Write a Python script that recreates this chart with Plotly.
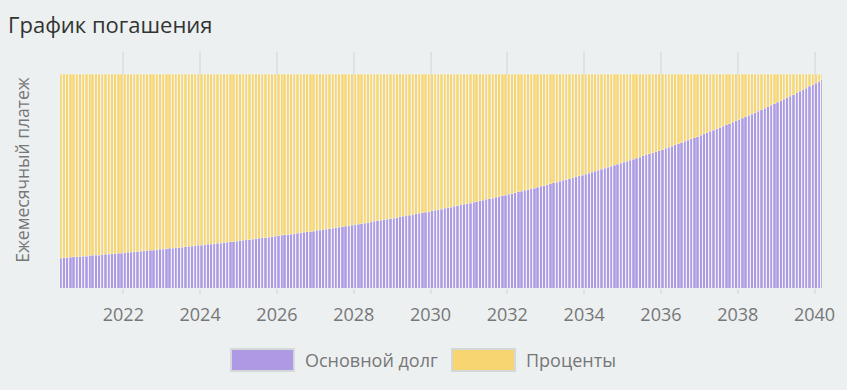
import plotly.graph_objects as go
import pandas as pd

# Monthly payment split (share of a constant monthly payment, %)
principal = [
    14.0, 14.1, 14.2, 14.3, 14.5, 14.6, 14.7, 14.8, 14.9, 15.1, 15.2, 15.3,
    15.4, 15.6, 15.7, 15.8, 16.0, 16.1, 16.2, 16.3, 16.5, 16.6, 16.7, 16.9,
    17.0, 17.2, 17.3, 17.4, 17.6, 17.7, 17.9, 18.0, 18.2, 18.3, 18.5, 18.6,
    18.8, 18.9, 19.1, 19.2, 19.4, 19.5, 19.7, 19.9, 20.0, 20.2, 20.4, 20.5,
    20.7, 20.9, 21.0, 21.2, 21.4, 21.6, 21.7, 21.9, 22.1, 22.3, 22.5, 22.6,
    22.8, 23.0, 23.2, 23.4, 23.6, 23.8, 24.0, 24.2, 24.4, 24.6, 24.8, 25.0,
    25.2, 25.4, 25.6, 25.8, 26.0, 26.2, 26.4, 26.6, 26.9, 27.1, 27.3, 27.5,
    27.8, 28.0, 28.2, 28.4, 28.7, 28.9, 29.1, 29.4, 29.6, 29.9, 30.1, 30.3,
    30.6, 30.9, 31.1, 31.4, 31.6, 31.9, 32.1, 32.4, 32.7, 32.9, 33.2, 33.5,
    33.7, 34.0, 34.3, 34.6, 34.9, 35.1, 35.4, 35.7, 36.0, 36.3, 36.6, 36.9,
    37.2, 37.5, 37.8, 38.1, 38.4, 38.8, 39.1, 39.4, 39.7, 40.0, 40.4, 40.7,
    41.0, 41.4, 41.7, 42.0, 42.4, 42.7, 43.1, 43.4, 43.8, 44.1, 44.5, 44.9,
    45.2, 45.6, 46.0, 46.4, 46.7, 47.1, 47.5, 47.9, 48.3, 48.7, 49.1, 49.5,
    49.9, 50.3, 50.7, 51.1, 51.5, 52.0, 52.4, 52.8, 53.2, 53.7, 54.1, 54.6,
    55.0, 55.5, 55.9, 56.4, 56.8, 57.3, 57.8, 58.2, 58.7, 59.2, 59.7, 60.2,
    60.7, 61.2, 61.7, 62.2, 62.7, 63.2, 63.7, 64.2, 64.7, 65.3, 65.8, 66.3,
    66.9, 67.4, 68.0, 68.5, 69.1, 69.7, 70.2, 70.8, 71.4, 72.0, 72.6, 73.2,
    73.8, 74.4, 75.0, 75.6, 76.2, 76.8, 77.5, 78.1, 78.7, 79.4, 80.0, 80.7,
    81.3, 82.0, 82.7, 83.4, 84.0, 84.7, 85.4, 86.1, 86.8, 87.5, 88.2, 89.0,
    89.7, 90.4, 91.2, 91.9, 92.7, 93.4, 94.2, 95.0, 95.7, 96.5, 97.3, 98.1,
]
interest = [
    86.0, 85.9, 85.8, 85.7, 85.5, 85.4, 85.3, 85.2, 85.1, 84.9, 84.8, 84.7,
    84.6, 84.4, 84.3, 84.2, 84.0, 83.9, 83.8, 83.7, 83.5, 83.4, 83.3, 83.1,
    83.0, 82.8, 82.7, 82.6, 82.4, 82.3, 82.1, 82.0, 81.8, 81.7, 81.5, 81.4,
    81.2, 81.1, 80.9, 80.8, 80.6, 80.5, 80.3, 80.1, 80.0, 79.8, 79.6, 79.5,
    79.3, 79.1, 79.0, 78.8, 78.6, 78.4, 78.3, 78.1, 77.9, 77.7, 77.5, 77.4,
    77.2, 77.0, 76.8, 76.6, 76.4, 76.2, 76.0, 75.8, 75.6, 75.4, 75.2, 75.0,
    74.8, 74.6, 74.4, 74.2, 74.0, 73.8, 73.6, 73.4, 73.1, 72.9, 72.7, 72.5,
    72.2, 72.0, 71.8, 71.6, 71.3, 71.1, 70.9, 70.6, 70.4, 70.1, 69.9, 69.7,
    69.4, 69.1, 68.9, 68.6, 68.4, 68.1, 67.9, 67.6, 67.3, 67.1, 66.8, 66.5,
    66.3, 66.0, 65.7, 65.4, 65.1, 64.9, 64.6, 64.3, 64.0, 63.7, 63.4, 63.1,
    62.8, 62.5, 62.2, 61.9, 61.6, 61.2, 60.9, 60.6, 60.3, 60.0, 59.6, 59.3,
    59.0, 58.6, 58.3, 58.0, 57.6, 57.3, 56.9, 56.6, 56.2, 55.9, 55.5, 55.1,
    54.8, 54.4, 54.0, 53.6, 53.3, 52.9, 52.5, 52.1, 51.7, 51.3, 50.9, 50.5,
    50.1, 49.7, 49.3, 48.9, 48.5, 48.0, 47.6, 47.2, 46.8, 46.3, 45.9, 45.4,
    45.0, 44.5, 44.1, 43.6, 43.2, 42.7, 42.2, 41.8, 41.3, 40.8, 40.3, 39.8,
    39.3, 38.8, 38.3, 37.8, 37.3, 36.8, 36.3, 35.8, 35.3, 34.7, 34.2, 33.7,
    33.1, 32.6, 32.0, 31.5, 30.9, 30.3, 29.8, 29.2, 28.6, 28.0, 27.4, 26.8,
    26.2, 25.6, 25.0, 24.4, 23.8, 23.2, 22.5, 21.9, 21.3, 20.6, 20.0, 19.3,
    18.7, 18.0, 17.3, 16.6, 16.0, 15.3, 14.6, 13.9, 13.2, 12.5, 11.8, 11.0,
    10.3, 9.6, 8.8, 8.1, 7.3, 6.6, 5.8, 5.0, 4.3, 3.5, 2.7, 1.9,
]
months = pd.date_range("2020-04-15", periods=len(principal), freq="MS") + pd.Timedelta(days=14)
tick_years = ["2022", "2024", "2026", "2028", "2030", "2032", "2034", "2036", "2038", "2040"]

names = ["Основной долг", "Проценты"]
colors = ["#ad99e4", "#f7d570"]

BG = "#ecf0f1"
GRID = "#dde2e3"
FONT = "Open Sans, Noto Sans, sans-serif"

fig = go.Figure()
for name, vals, col in zip(names, [principal, interest], colors):
    fig.add_trace(go.Bar(
        x=months, y=vals, name=name,
        marker=dict(color=col, line=dict(color="rgba(255,255,255,0.35)", width=0.6)),
        showlegend=False,
    ))

# Legend drawn as wide swatches with text labels
legend_items = [(231, 294, 303), (452, 515, 524)]
W, H = 847, 390
for (x0, x1, tx), name, col in zip(legend_items, names, colors):
    fig.add_shape(type="rect", xref="paper", yref="paper",
                  x0=(x0 - 57) / (822 - 57), x1=(x1 - 57) / (822 - 57),
                  y0=(288 - 349) / (288 - 52), y1=(288 - 371) / (288 - 52),
                  fillcolor=col, line=dict(color="#d3d8d9", width=2), layer="above")
    fig.add_annotation(xref="paper", yref="paper",
                       x=(tx - 57) / (822 - 57), y=(288 - 360) / (288 - 52),
                       xanchor="left", yanchor="middle", showarrow=False,
                       text=name, font=dict(family=FONT, size=18, color="#777777"))

fig.update_layout(
    width=W, height=H,
    barmode="stack", bargap=0.22,
    paper_bgcolor=BG, plot_bgcolor=BG,
    margin=dict(l=57, r=25, t=52, b=102),
    font=dict(family=FONT, color="#777777"),
    title=dict(text="График погашения", x=8 / W, xanchor="left", xref="container",
               y=1 - 25 / H, yanchor="middle", yref="container",
               font=dict(family=FONT, size=22, color="#333333")),
)
fig.update_xaxes(
    type="date",
    range=["2020-04-10", "2040-03-12"],
    tickvals=[pd.Timestamp(y + "-01-01") for y in tick_years],
    ticktext=tick_years,
    showgrid=True, gridcolor=GRID, gridwidth=2,
    ticks="outside", ticklen=5, tickcolor=GRID, tickwidth=2,
    ticklabelstandoff=5,
    tickfont=dict(family=FONT, size=18, color="#777777"),
    showline=False, zeroline=False,
)
fig.update_yaxes(
    range=[0, 110.3], showticklabels=False, showgrid=False, zeroline=False,
    title=dict(text="Ежемесячный платеж", standoff=21,
               font=dict(family=FONT, size=17.5, color="#777777")),
)

fig.write_html("out.html", config={"displayModeBar": False},
               post_script="document.body.style.margin='0';")
